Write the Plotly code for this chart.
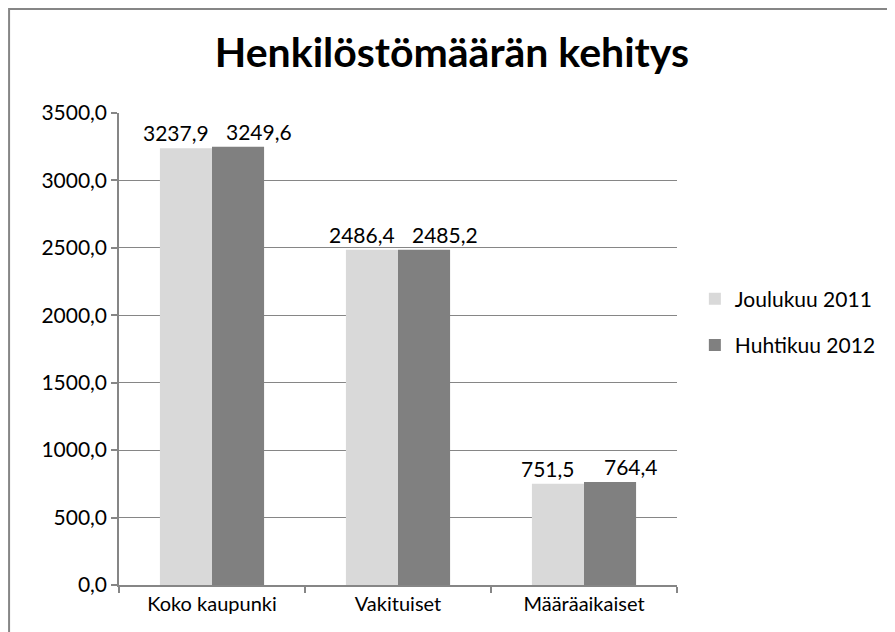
import plotly.graph_objects as go

categories = ["Koko kaupunki", "Vakituiset", "Määräaikaiset"]
series_names = ["Joulukuu 2011", "Huhtikuu 2012"]
joulukuu_2011 = [3237.9, 2486.4, 751.5]
huhtikuu_2012 = [3249.6, 2485.2, 764.4]
y_ticks = [0, 500, 1000, 1500, 2000, 2500, 3000, 3500]

FONT = "Lato, Open Sans, sans-serif"
colors = ["#d9d9d9", "#808080"]
label_shift = [-36, 47]

fig = go.Figure()
series = [joulukuu_2011, huhtikuu_2012]
for i, (name, vals) in enumerate(zip(series_names, series)):
    fig.add_trace(go.Bar(
        x=categories, y=vals, name=name,
        marker=dict(color=colors[i], line=dict(width=0)),
        legendgroup=name,
    ))
    for cat, v in zip(categories, vals):
        fig.add_annotation(
            x=cat, y=v, xref="x", yref="y",
            text=f"{v:.1f}".replace(".", ","),
            showarrow=False, xanchor="center", yanchor="bottom",
            xshift=label_shift[i], yshift=1,
            font=dict(size=21, family=FONT, color="#000000"),
        )

fig.update_layout(
    width=895, height=632,
    margin=dict(l=111, r=226, t=105, b=55),
    paper_bgcolor="white", plot_bgcolor="white",
    separators=", ",
    barmode="group", bargap=0.44, bargroupgap=0,
    title=dict(text="<b>Henkilöstömäärän kehitys</b>", x=0.496, xanchor="center",
               y=1 - 45 / 632, yref="container", yanchor="middle",
               font=dict(size=41, family=FONT, color="#000000")),
    font=dict(family=FONT, color="#000000"),
    legend=dict(x=1.032, xref="paper", xanchor="left", y=0.557, yanchor="middle",
                font=dict(size=21, family=FONT, color="#000000"),
                tracegroupgap=16, itemwidth=30),
    showlegend=True,
    xaxis=dict(showline=True, linecolor="#868686", linewidth=1.5,
               ticks="outside", tickson="boundaries", ticklen=6, tickcolor="#868686",
               tickwidth=1.5,
               tickfont=dict(size=20, family=FONT), showgrid=False),
    yaxis=dict(range=[0, 3500], tickvals=y_ticks, tickformat=".1f",
               showline=True, linecolor="#868686", linewidth=1.5,
               ticks="outside", ticklen=6, tickcolor="#868686", tickwidth=1.5,
               gridcolor="#868686", gridwidth=1.2, zeroline=False,
               tickfont=dict(size=21, family=FONT)),
)

fig.add_shape(type="rect", xref="paper", yref="paper",
              x0=-0.197, x1=2.0, y0=-0.4, y1=1.2203,
              line=dict(color="#868686", width=2), layer="below")

fig.write_html("out.html")
